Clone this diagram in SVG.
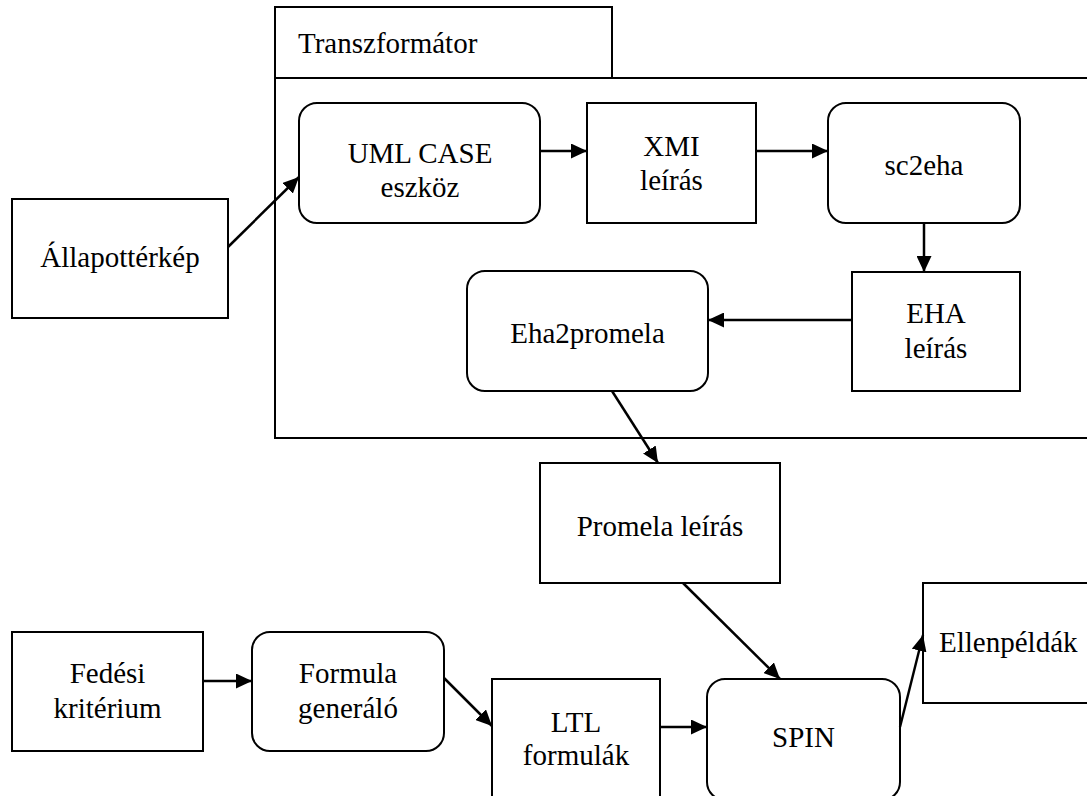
<svg xmlns="http://www.w3.org/2000/svg" width="1087" height="796" viewBox="0 0 1087 796">
  <style>
    .box { fill: #ffffff; stroke: #000000; stroke-width: 2; }
    .frame { fill: none; stroke: #000000; stroke-width: 2; }
    text { font-family: 'Liberation Serif', 'Times New Roman', 'DejaVu Serif', serif; font-size: 29px; fill: #000000; text-anchor: middle; }
    .lbl-start { text-anchor: start; }
    .edge { fill: none; stroke: #000000; stroke-width: 2.5; marker-end: url(#arrow); }
  </style>
  <defs>
    <marker id="arrow" markerUnits="userSpaceOnUse" markerWidth="17" markerHeight="15" refX="16" refY="7.5" orient="auto">
      <path d="M0,0 L16,7.5 L0,15 Z" fill="#000000"/>
    </marker>
  </defs>

  <rect width="1087" height="796" fill="#ffffff"/>

  <!-- Transzformátor container: tab and body (body runs past the right edge) -->
  <g id="transzformator">
    <rect class="frame" x="275" y="7" width="337" height="71"/>
    <path class="frame" d="M1090,78 H275 V438 H1090"/>
    <text class="lbl-start" x="298" y="53" font-family="Liberation Serif, serif">Transzformátor</text>
  </g>

  <g id="allapotterkep" font-family="Liberation Serif, serif">
    <rect class="box" x="12" y="199" width="216" height="119"/>
    <text x="120" y="267">Állapottérkép</text>
  </g>

  <g id="uml-case">
    <rect class="box" x="299" y="103" width="241" height="120" rx="18" ry="18"/>
    <text x="420" y="163">UML CASE</text>
    <text x="420" y="197">eszköz</text>
  </g>

  <g id="xmi">
    <rect class="box" x="587" y="103" width="169" height="120"/>
    <text x="671.5" y="156">XMI</text>
    <text x="671.5" y="190">leírás</text>
  </g>

  <g id="sc2eha">
    <rect class="box" x="828" y="103" width="192" height="120" rx="18" ry="18"/>
    <text x="924" y="175">sc2eha</text>
  </g>

  <g id="eha">
    <rect class="box" x="852" y="272" width="168" height="119"/>
    <text x="936" y="323">EHA</text>
    <text x="936" y="358">leírás</text>
  </g>

  <g id="eha2promela">
    <rect class="box" x="467" y="271" width="241" height="120" rx="18" ry="18"/>
    <text x="587.5" y="343">Eha2promela</text>
  </g>

  <g id="promela">
    <rect class="box" x="540" y="463" width="240" height="120"/>
    <text x="660" y="536">Promela leírás</text>
  </g>

  <g id="fedesi">
    <rect class="box" x="12" y="632" width="191" height="119"/>
    <text x="107.5" y="683">Fedési</text>
    <text x="107.5" y="718">kritérium</text>
  </g>

  <g id="formula">
    <rect class="box" x="252" y="632" width="192" height="119" rx="18" ry="18"/>
    <text x="348" y="683">Formula</text>
    <text x="348" y="718">generáló</text>
  </g>

  <g id="ltl">
    <rect class="box" x="492" y="679" width="168" height="130"/>
    <text x="576" y="732">LTL</text>
    <text x="576" y="765">formulák</text>
  </g>

  <g id="spin">
    <rect class="box" x="707" y="679" width="193" height="121" rx="18" ry="18"/>
    <text x="803.5" y="747">SPIN</text>
  </g>

  <g id="ellenpeldak">
    <rect class="box" x="923" y="583" width="180" height="120"/>
    <text class="lbl-start" x="939" y="652">Ellenpéldák</text>
  </g>

  <!-- connectors -->
  <g id="connectors">
    <line class="edge" x1="228" y1="247" x2="299" y2="177"/>
    <line class="edge" x1="540" y1="151" x2="587" y2="151"/>
    <line class="edge" x1="756" y1="151" x2="828" y2="151"/>
    <line class="edge" x1="924" y1="223" x2="924" y2="272"/>
    <line class="edge" x1="852" y1="320" x2="708" y2="320"/>
    <line class="edge" x1="612" y1="391" x2="658" y2="463"/>
    <line class="edge" x1="203" y1="681" x2="252" y2="681"/>
    <line class="edge" x1="444" y1="678" x2="492" y2="726"/>
    <line class="edge" x1="660" y1="727" x2="707" y2="727"/>
    <line class="edge" x1="683" y1="583" x2="780" y2="679"/>
    <line class="edge" x1="900" y1="727" x2="923" y2="635"/>
  </g>
</svg>
